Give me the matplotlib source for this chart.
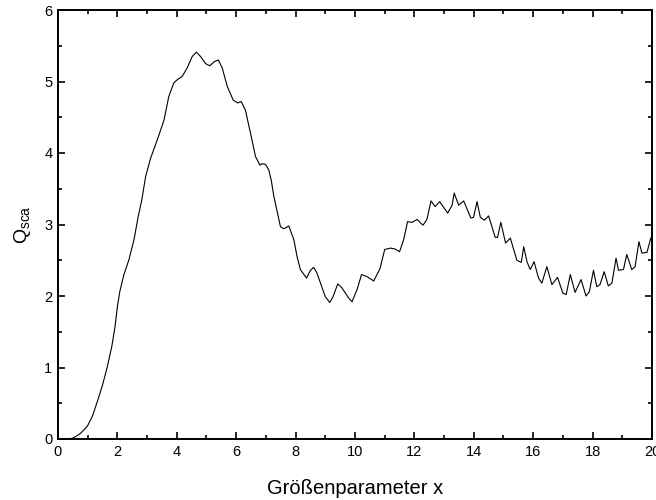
import matplotlib
matplotlib.use("Agg")
import matplotlib.pyplot as plt
from matplotlib.ticker import MultipleLocator

plt.rcParams['font.family'] = ['Liberation Sans', 'DejaVu Sans']
plt.rcParams['mathtext.fontset'] = 'custom'
plt.rcParams['mathtext.rm'] = 'Liberation Sans'

# Größenparameter x und Streueffizienz Q_sca
x = [0.0, 0.2, 0.35, 0.48, 0.62, 0.76, 0.99, 1.16, 1.33, 1.49, 1.66, 1.81, 1.92,
     2.00, 2.08, 2.22, 2.39, 2.56, 2.70, 2.82, 2.95, 3.12, 3.34, 3.57, 3.73, 3.90,
     4.03, 4.18, 4.35, 4.52, 4.66, 4.80, 4.97, 5.11, 5.27, 5.40, 5.53, 5.70, 5.90,
     6.05, 6.17, 6.31, 6.48, 6.65, 6.80, 6.87, 6.99, 7.10, 7.18, 7.27, 7.38, 7.49,
     7.60, 7.69, 7.77, 7.94, 8.05, 8.16, 8.37, 8.50, 8.61, 8.72, 8.84, 9.00, 9.15,
     9.26, 9.42, 9.55, 9.68, 9.79, 9.90, 10.07, 10.22, 10.41, 10.63, 10.84, 11.0,
     11.19, 11.33, 11.50, 11.64, 11.77, 11.92, 12.09, 12.29, 12.42, 12.56, 12.70,
     12.85, 13.12, 13.27, 13.34, 13.49, 13.66, 13.90, 13.99, 14.11, 14.22, 14.36,
     14.50, 14.72, 14.80, 14.91, 15.07, 15.23, 15.45, 15.60, 15.68, 15.79, 15.90,
     16.03, 16.18, 16.29, 16.46, 16.63, 16.82, 17.0, 17.11, 17.25, 17.41, 17.61,
     17.78, 17.89, 18.03, 18.14, 18.25, 18.39, 18.53, 18.65, 18.79, 18.87, 19.04,
     19.15, 19.32, 19.43, 19.56, 19.66, 19.83, 19.96, 20.0]
q = [0.0, 0.0, 0.003, 0.01, 0.04, 0.08, 0.18, 0.32, 0.53, 0.74, 1.01, 1.29, 1.57,
     1.85, 2.06, 2.30, 2.51, 2.79, 3.11, 3.34, 3.67, 3.93, 4.18, 4.46, 4.79, 4.98,
     5.03, 5.07, 5.19, 5.35, 5.41, 5.35, 5.25, 5.22, 5.28, 5.30, 5.19, 4.93, 4.74,
     4.70, 4.72, 4.60, 4.28, 3.95, 3.83, 3.85, 3.84, 3.76, 3.62, 3.39, 3.18, 2.97,
     2.94, 2.96, 2.98, 2.79, 2.55, 2.37, 2.25, 2.36, 2.40, 2.32, 2.18, 1.99, 1.91,
     1.99, 2.17, 2.12, 2.04, 1.97, 1.92, 2.09, 2.30, 2.27, 2.21, 2.38, 2.65,
     2.67, 2.66, 2.62, 2.79, 3.04, 3.03, 3.07, 2.99, 3.07, 3.33, 3.25,
     3.32, 3.16, 3.27, 3.44, 3.27, 3.33, 3.09, 3.10, 3.32, 3.10, 3.06,
     3.12, 2.82, 2.82, 3.03, 2.74, 2.81, 2.50, 2.47, 2.69, 2.48, 2.37,
     2.48, 2.25, 2.18, 2.41, 2.16, 2.26, 2.04, 2.02, 2.30, 2.05, 2.23,
     2.00, 2.06, 2.36, 2.13, 2.16, 2.34, 2.14, 2.18, 2.53, 2.36, 2.37,
     2.58, 2.37, 2.41, 2.76, 2.60, 2.61, 2.81, 2.83]

fig = plt.figure(figsize=(6.56, 5.0), dpi=100)
ax = fig.add_axes([0.0884, 0.122, 0.9055, 0.858])
ax.plot(x, q, color='black', linewidth=0.8)

ax.set_xlim(0, 20)
ax.set_ylim(0, 6)
ax.xaxis.set_major_locator(MultipleLocator(2))
ax.xaxis.set_minor_locator(MultipleLocator(1))
ax.yaxis.set_major_locator(MultipleLocator(1))
ax.yaxis.set_minor_locator(MultipleLocator(0.5))
ax.tick_params(which='both', direction='in', top=True, right=True, width=1.2,
               labelsize=10.5, pad=4)
ax.tick_params(which='major', length=5)
ax.tick_params(which='minor', length=3)
for s in ax.spines.values():
    s.set_linewidth(1.4)

ax.set_xlabel('Größenparameter x', fontsize=14.5, labelpad=15)
ax.set_ylabel(r'$\mathrm{Q_{sca}}$', fontsize=14, labelpad=8)

fig.savefig('out.png', dpi=100)
